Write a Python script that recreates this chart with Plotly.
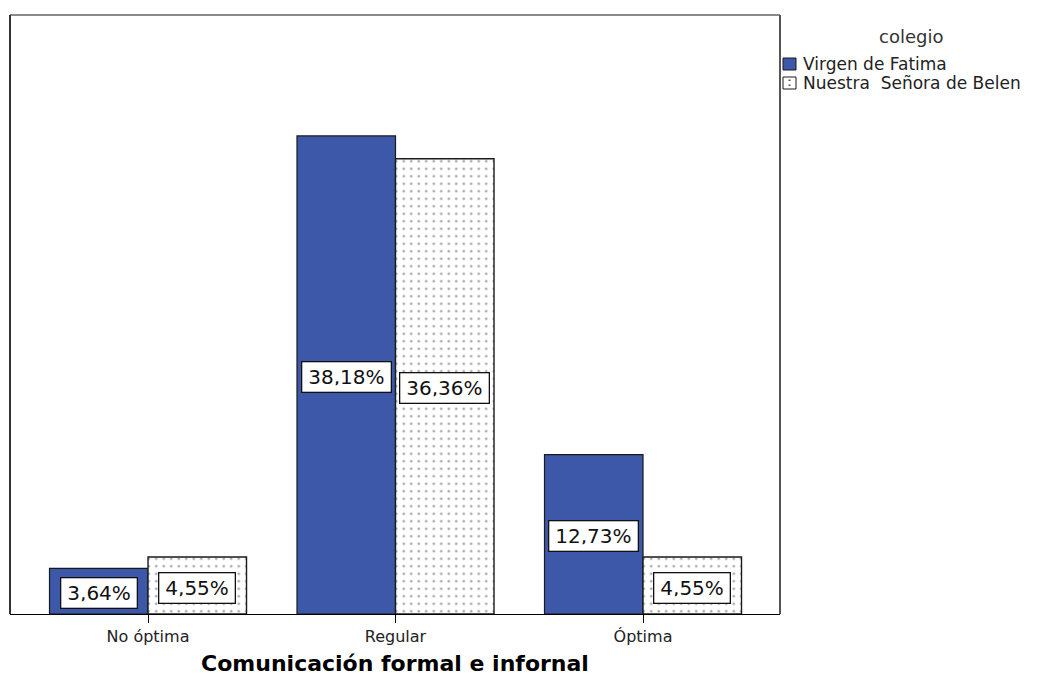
import plotly.graph_objects as go

# Data: percentage of students per level of formal/informal communication
categories = ["No óptima", "Regular", "Óptima"]
virgen_fatima = [3.64, 38.18, 12.73]
senora_belen = [4.55, 36.36, 4.55]
series_names = ["Virgen de Fatima", "Nuestra\u00a0 Señora de Belen"]
legend_title = "colegio"
axis_title = "Comunicación formal e infornal"

BLUE = "#3d58a8"
FONT = "DejaVu Sans"
W, H = 1042, 678
M_L, M_R, M_T, M_B = 10, 262, 15, 64
BARGAP = 0.204
X_RANGE = [-0.5576, 2.5535]
Y_MAX = 47.84


def fmt(v):
    return f"{v:.2f}".replace(".", ",") + "%"


def px_x(px):
    return (px - M_L) / (W - M_L - M_R)


def px_y(py):
    return (H - M_B - py) / (H - M_T - M_B)


fig = go.Figure()
fig.add_trace(go.Bar(
    name=series_names[0], x=categories, y=virgen_fatima,
    marker=dict(color=BLUE, line=dict(color="#1a1a1a", width=1.2)),
    showlegend=False, hoverinfo="skip",
))
fig.add_trace(go.Bar(
    name=series_names[1], x=categories, y=senora_belen,
    marker=dict(color="white", line=dict(color="#1a1a1a", width=1.4),
                pattern=dict(shape=".", fgcolor="#555555", bgcolor="white",
                             size=7.5, solidity=0.11)),
    showlegend=False, hoverinfo="skip",
))

# Value labels in boxed white tags at mid-height of each bar
half = (1 - BARGAP) / 4
annotations = []
for values, off in ((virgen_fatima, -half), (senora_belen, half)):
    for i, v in enumerate(values):
        annotations.append(dict(
            x=i + off, y=v / 2, xref="x", yref="y", text=fmt(v),
            showarrow=False, yshift=-2,
            font=dict(family=FONT, size=20, color="#111"),
            bgcolor="white", bordercolor="#111", borderwidth=1.3,
            borderpad=6, height=17,
        ))

# Legend drawn as swatches and labels at the right of the plot
annotations.append(dict(
    x=px_x(911), y=px_y(37), xref="paper", yref="paper", text=legend_title,
    showarrow=False, xanchor="center", yanchor="middle",
    font=dict(family=FONT, size=18, color="#333"),
))
for name, cy in zip(series_names, (64, 83)):
    annotations.append(dict(
        x=px_x(801), y=px_y(cy), xref="paper", yref="paper", text=name,
        showarrow=False, xanchor="left", yanchor="middle",
        font=dict(family=FONT, size=17, color="#222"),
    ))

shapes = [
    # swatches
    dict(type="rect", xref="paper", yref="paper",
         x0=px_x(783), x1=px_x(796), y0=px_y(70), y1=px_y(58),
         fillcolor=BLUE, line=dict(color="#1a1a1a", width=1)),
    dict(type="rect", xref="paper", yref="paper",
         x0=px_x(783), x1=px_x(796), y0=px_y(89), y1=px_y(77),
         fillcolor="white", line=dict(color="#1a1a1a", width=1)),
    dict(type="rect", xref="paper", yref="paper",
         x0=px_x(788.5), x1=px_x(790.5), y0=px_y(81), y1=px_y(79.5),
         fillcolor="#555", line=dict(width=0)),
    dict(type="rect", xref="paper", yref="paper",
         x0=px_x(788.5), x1=px_x(790.5), y0=px_y(86), y1=px_y(84.5),
         fillcolor="#555", line=dict(width=0)),
    # plot frame
    dict(type="line", xref="paper", yref="paper", x0=0, x1=1, y0=1, y1=1,
         line=dict(color="#8a8a8a", width=2)),
    dict(type="line", xref="paper", yref="paper", x0=0, x1=0, y0=0, y1=1,
         line=dict(color="#333", width=2)),
    dict(type="line", xref="paper", yref="paper", x0=1, x1=1, y0=0, y1=1,
         line=dict(color="#555", width=2)),
]

fig.update_layout(
    width=W, height=H,
    margin=dict(l=M_L, r=M_R, t=M_T, b=M_B, autoexpand=False),
    paper_bgcolor="white", plot_bgcolor="white",
    barmode="group", bargap=BARGAP, bargroupgap=0,
    showlegend=False,
    annotations=annotations, shapes=shapes,
    xaxis=dict(
        type="category", range=X_RANGE, automargin=False,
        showline=True, linecolor="black", linewidth=1,
        ticks="outside", ticklen=8, tickcolor="black", tickwidth=1,
        tickfont=dict(family=FONT, size=16, color="#222"),
        showgrid=False, zeroline=False,
        title=dict(text=axis_title, standoff=10,
                   font=dict(family=FONT, size=22, color="black", weight="bold")),
    ),
    yaxis=dict(range=[0, Y_MAX], visible=False, showgrid=False, zeroline=False,
               automargin=False),
)

fig.write_html("out.html")
